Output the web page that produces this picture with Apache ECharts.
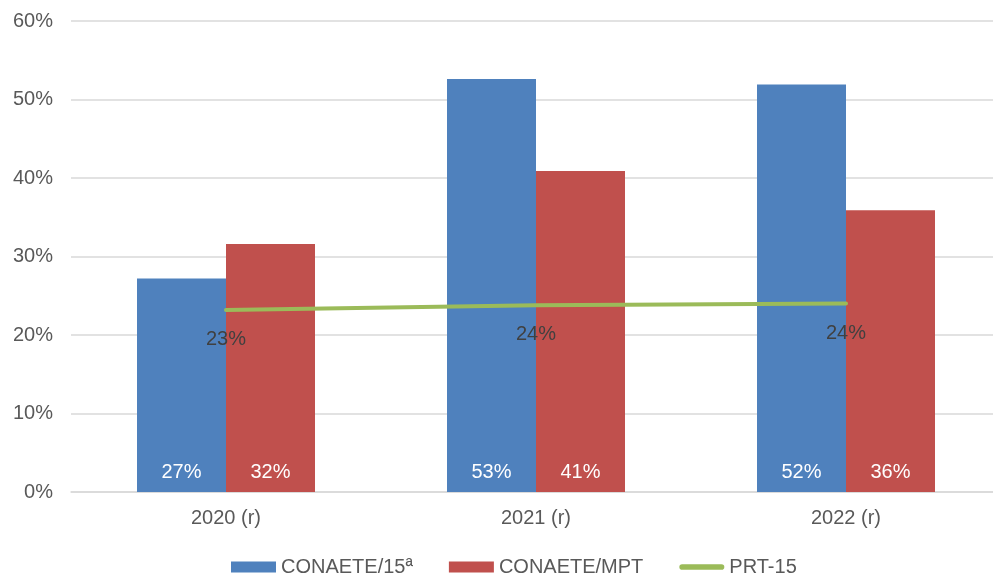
<!DOCTYPE html>
<html>
<head>
<meta charset="utf-8">
<script src="https://cdn.jsdelivr.net/npm/echarts@6/dist/echarts.min.js"></script>
<style>
html,body{margin:0;padding:0;background:#fff;overflow:hidden;width:993px;height:574px;}
#c{width:1001px;height:574px;}
</style>
</head>
<body>
<div id="c"></div>
<script>
var categories = ['2020 (r)', '2021 (r)', '2022 (r)'];
var conaete15 = [27.2, 52.6, 51.9];
var conaeteMPT = [31.6, 40.9, 35.9];
var prt15 = [23.2, 23.8, 24.0];
var yTicks = [0, 10, 20, 30, 40, 50, 60];

var FONT = '"Liberation Sans", Arial, sans-serif';
var pct = function (p) { return Math.round(p.value) + '%'; };

var chart = echarts.init(document.getElementById('c'), null, {renderer: 'canvas'});
chart.setOption({
  animation: false,
  backgroundColor: '#ffffff',
  textStyle: {fontFamily: FONT},
  grid: {left: 71, right: 0, top: 21, bottom: 82, containLabel: false},
  legend: {
    left: 226, top: 552,
    itemWidth: 45, itemHeight: 11, itemGap: 36,
    textStyle: {color: '#595959', fontSize: 20, fontFamily: FONT},
    data: [
      {name: 'CONAETE/15ª', icon: 'rect'},
      {name: 'CONAETE/MPT', icon: 'rect'},
      {name: 'PRT-15', icon: 'path://M3,0 L45,0 A3,3 0 0 1 45,6 L3,6 A3,3 0 0 1 3,0 Z'}
    ]
  },
  xAxis: {
    type: 'category',
    data: categories,
    axisLine: {lineStyle: {color: '#D9D9D9', width: 1.5}},
    axisTick: {show: false},
    axisLabel: {color: '#595959', fontSize: 20, margin: 16, fontFamily: FONT}
  },
  yAxis: {
    type: 'value',
    min: yTicks[0], max: yTicks[yTicks.length - 1], interval: 10,
    axisLine: {show: false},
    axisTick: {show: false},
    splitLine: {lineStyle: {color: '#D9D9D9', width: 1.5}},
    axisLabel: {color: '#595959', fontSize: 20, margin: 18, fontFamily: FONT, formatter: '{value}%'}
  },
  series: [
    {
      name: 'CONAETE/15ª', type: 'bar', data: conaete15,
      barWidth: 89, barGap: '0%',
      itemStyle: {color: '#4F81BD'},
      label: {show: true, position: 'insideBottom', distance: 10, color: '#ffffff', fontSize: 20, fontFamily: FONT, formatter: pct}
    },
    {
      name: 'CONAETE/MPT', type: 'bar', data: conaeteMPT,
      barWidth: 89, barGap: '0%',
      itemStyle: {color: '#C0504D'},
      label: {show: true, position: 'insideBottom', distance: 10, color: '#ffffff', fontSize: 20, fontFamily: FONT, formatter: pct}
    },
    {
      name: 'PRT-15', type: 'line', data: prt15, z: 5,
      symbol: 'circle', symbolSize: 1,
      itemStyle: {color: '#9BBB59'},
      lineStyle: {color: '#9BBB59', width: 4, cap: 'round'},
      label: {show: true, position: 'bottom', distance: 19, color: '#404040', fontSize: 20, fontFamily: FONT, formatter: pct}
    }
  ]
});
</script>
</body>
</html>
